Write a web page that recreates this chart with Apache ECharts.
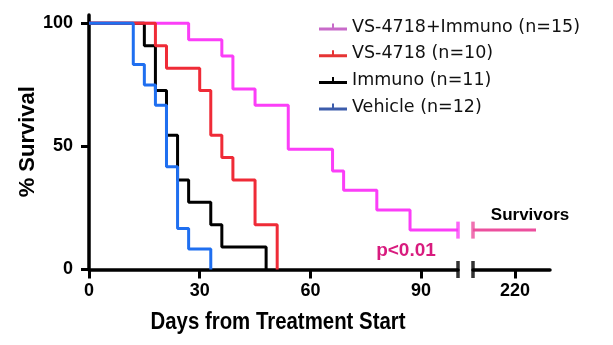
<!DOCTYPE html>
<html>
<head>
<meta charset="utf-8">
<script src="https://cdn.jsdelivr.net/npm/echarts@6/dist/echarts.min.js"></script>
<style>
html,body{margin:0;padding:0;background:#fff;}
#chart{width:613px;height:345px;}
</style>
</head>
<body>
<div id="chart"></div>
<script>
// ---- data ----
const seriesNames = ['VS-4718+Immuno (n=15)', 'VS-4718 (n=10)', 'Immuno (n=11)', 'Vehicle (n=12)'];
const comboData   = [[0,100],[27,93.3],[36,86.7],[39,73.3],[45,66.7],[54,48.9],[66,40],[69,32.2],[78,24.2],[87,16],[100,16]];
const vs4718Data  = [[0,100],[18,90.9],[21,81.8],[30,72.7],[33,54.5],[36,45.5],[39,36.4],[45,18.2],[51,0]];
const immunoData  = [[0,100],[15,90.9],[18,72.7],[21,54.5],[24,36.4],[27,27.3],[33,18.2],[36,9.1],[48,0]];
const vehicleData = [[0,100],[12,83.3],[15,75],[18,66.7],[21,41.7],[24,16.7],[27,8.3],[33,0]];
const survivorsData = [[208,16],[226,16]];
const xTicksMain  = [0, 30, 60, 90];
const xTicksBreak = [220];
const yTicks      = [0, 50, 100];
const mainRange   = [0, 100];
const breakRange  = [208, 230];
const yMax        = 103.4;
const survivorLevel = 16;

// ---- styles ----
const C = {combo:'#fb3ef8', vs:'#ef2b37', imm:'#000000', veh:'#1f6ff0', surv:'#ec4f9d', p:'#d81b7e'};
const legendColors = ['#c86ac9', '#e63434', '#000000', '#3c5cab'];
const boldFont = '"Liberation Sans", Arial, sans-serif';

const chart = echarts.init(document.getElementById('chart'), null, {renderer:'canvas'});

const axisLineStyle = {color:'#000', width:3.5};
const tickStyle = {show:true, length:9, lineStyle:{color:'#000', width:3}};
const labelStyle = {color:'#000', fontFamily:boldFont, fontWeight:'bold', fontSize:18};

function lineSeries(name, data, color, xi) {
  return {
    name: name, type:'line', step:'end', data:data,
    xAxisIndex:xi, yAxisIndex:xi,
    showSymbol:false, symbol:'none',
    lineStyle:{color:color, width:3},
    itemStyle:{color:color},
    clip:false, animation:false
  };
}
function capSeries(point, color, xi) {
  return {
    type:'scatter', data:[point], xAxisIndex:xi, yAxisIndex:xi,
    symbol:'rect', symbolSize:[3.5, 17], itemStyle:{color:color},
    silent:true, clip:false, animation:false, z:5
  };
}

const option = {
  animation:false,
  backgroundColor:'#fff',
  grid:[
    {left:89, right:155, top:15, bottom:75.5, containLabel:false, outerBoundsMode:'none'},
    {left:473, right:63, top:15, bottom:75.5, containLabel:false, outerBoundsMode:'none'}
  ],
  xAxis:[
    {type:'value', gridIndex:0, min:mainRange[0], max:mainRange[1],
     axisLine:{show:true, onZero:false, lineStyle:axisLineStyle},
     axisTick:Object.assign({customValues:xTicksMain}, tickStyle),
     axisLabel:Object.assign({customValues:xTicksMain, margin:13}, labelStyle),
     splitLine:{show:false}},
    {type:'value', gridIndex:1, min:breakRange[0], max:breakRange[1],
     axisLine:{show:true, onZero:false, lineStyle:axisLineStyle},
     axisTick:Object.assign({customValues:xTicksBreak}, tickStyle),
     axisLabel:Object.assign({customValues:xTicksBreak, margin:13}, labelStyle),
     splitLine:{show:false}}
  ],
  yAxis:[
    {type:'value', gridIndex:0, min:0, max:yMax,
     axisLine:{show:true, onZero:false, lineStyle:axisLineStyle},
     axisTick:Object.assign({customValues:yTicks}, tickStyle, {length:8}),
     axisLabel:Object.assign({customValues:yTicks, margin:16}, labelStyle),
     splitLine:{show:false}},
    {type:'value', gridIndex:1, min:0, max:yMax, show:false, splitLine:{show:false}}
  ],
  legend:{
    orient:'vertical', left:314, top:13,
    itemWidth:28, itemHeight:7, itemGap:8.7,
    selectedMode:false,
    icon:'path://M0,4 L28,4 L28,7 L0,7 Z M13,0 L15,0 L15,4 L13,4 Z',
    textStyle:{fontFamily:'"DejaVu Sans", sans-serif', fontSize:17.5, lineHeight:18, color:'#111'},
    data:seriesNames.map((n,i)=>({name:n, itemStyle:{color:legendColors[i]}}))
  },
  graphic:[
    {type:'text', x:27.5, y:141.7, rotation:Math.PI/2,
     style:{text:'% Survival', fontFamily:boldFont, fontWeight:'bold', fontSize:22, fill:'#000', align:'center', verticalAlign:'middle'}},
    {type:'text', x:278, y:322, scaleX:0.85,
     style:{text:'Days from Treatment Start', fontFamily:boldFont, fontWeight:'bold', fontSize:24, fill:'#000', align:'center', verticalAlign:'middle'}},
    {type:'text', x:406, y:251,
     style:{text:'p<0.01', fontFamily:boldFont, fontWeight:'bold', fontSize:19, fill:C.p, align:'center', verticalAlign:'middle'}},
    {type:'text', x:530, y:215,
     style:{text:'Survivors', fontFamily:boldFont, fontWeight:'bold', fontSize:17, fill:'#000', align:'center', verticalAlign:'middle'}}
  ],
  series:[
    lineSeries(seriesNames[0], comboData, C.combo, 0),
    lineSeries(seriesNames[2], immunoData, C.imm, 0),
    lineSeries(seriesNames[1], vs4718Data, C.vs, 0),
    lineSeries(seriesNames[3], vehicleData, C.veh, 0),
    lineSeries('Survivors', survivorsData, C.surv, 1),
    capSeries([mainRange[1], 0], '#000', 0),
    capSeries([mainRange[1], survivorLevel], C.combo, 0),
    capSeries([breakRange[0], 0], '#000', 1),
    capSeries([breakRange[0], survivorLevel], C.surv, 1)
  ]
};
chart.setOption(option);
</script>
</body>
</html>
